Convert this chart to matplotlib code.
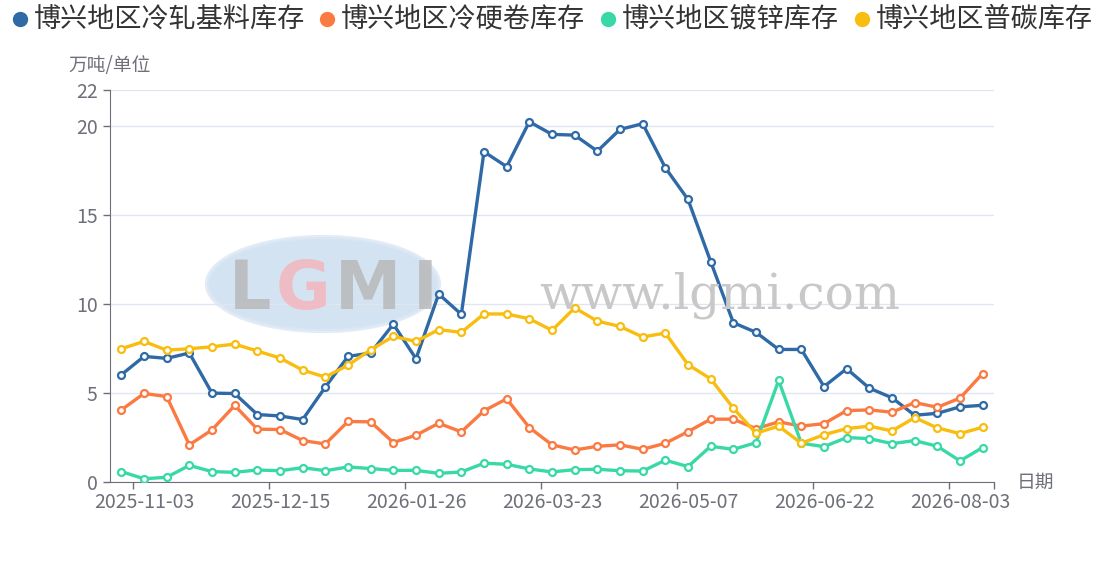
import matplotlib
matplotlib.use('Agg')
import matplotlib.pyplot as plt
from matplotlib.lines import Line2D
from matplotlib.patches import Ellipse

plt.rcParams['font.family'] = ['Noto Sans CJK SC', 'DejaVu Sans']

dates = ['2025-10-27', '2025-11-03', '2025-11-10', '2025-11-17', '2025-11-24', '2025-12-01',
         '2025-12-08', '2025-12-15', '2025-12-22', '2025-12-29', '2026-01-05', '2026-01-12',
         '2026-01-19', '2026-01-26', '2026-02-02', '2026-02-09', '2026-03-02', '2026-03-09',
         '2026-03-16', '2026-03-23', '2026-03-30', '2026-04-07', '2026-04-13', '2026-04-20',
         '2026-04-27', '2026-05-07', '2026-05-11', '2026-05-18', '2026-05-25', '2026-06-01',
         '2026-06-08', '2026-06-22', '2026-06-29', '2026-07-06', '2026-07-13', '2026-07-20',
         '2026-07-27', '2026-08-03', '2026-08-10']

cold_base = [6.03, 7.06, 6.95, 7.25, 5.00, 4.98, 3.80, 3.72, 3.52, 5.34, 7.06, 7.25, 8.87,
             6.93, 10.56, 9.42, 18.54, 17.70, 20.22, 19.51, 19.47, 18.57, 19.79, 20.11, 17.64,
             15.86, 12.38, 8.95, 8.41, 7.45, 7.45, 5.37, 6.37, 5.28, 4.74, 3.76, 3.87, 4.23, 4.32]
cold_hard = [4.06, 4.98, 4.81, 2.10, 2.94, 4.31, 2.98, 2.96, 2.34, 2.15, 3.41, 3.39, 2.23,
             2.64, 3.31, 2.83, 4.01, 4.68, 3.07, 2.10, 1.81, 2.02, 2.10, 1.85, 2.19, 2.84,
             3.54, 3.54, 3.01, 3.39, 3.15, 3.29, 4.02, 4.06, 3.93, 4.47, 4.21, 4.72, 6.10]
galvanized = [0.60, 0.20, 0.28, 0.95, 0.60, 0.56, 0.69, 0.65, 0.82, 0.65, 0.86, 0.77, 0.67,
              0.67, 0.50, 0.58, 1.07, 1.01, 0.75, 0.58, 0.71, 0.73, 0.65, 0.63, 1.24, 0.88,
              2.02, 1.85, 2.22, 5.71, 2.19, 2.00, 2.51, 2.45, 2.17, 2.34, 2.02, 1.20, 1.95]
carbon = [7.49, 7.90, 7.41, 7.49, 7.60, 7.75, 7.36, 6.97, 6.29, 5.90, 6.57, 7.43, 8.18,
          7.90, 8.56, 8.41, 9.44, 9.44, 9.17, 8.52, 9.78, 9.04, 8.74, 8.15, 8.37, 6.60,
          5.80, 4.16, 2.75, 3.15, 2.19, 2.67, 3.01, 3.15, 2.88, 3.63, 3.05, 2.73, 3.09]

names = ['博兴地区冷轧基料库存', '博兴地区冷硬卷库存', '博兴地区镀锌库存', '博兴地区普碳库存']
colors = ['#2f6aa6', '#fb7a42', '#38d9a6', '#f8bd0f']
series = [cold_base, cold_hard, galvanized, carbon]

axis_col = '#6e7079'

fig = plt.figure(figsize=(11.06, 5.88), dpi=100)
ax = fig.add_axes([110 / 1106, 1 - 482.3 / 588, 884 / 1106, 392.3 / 588])

# watermark
fig.add_artist(Ellipse((323 / 1106, 1 - 284 / 588), 232 / 1106, 94 / 588,
                       transform=fig.transFigure, facecolor='#c9dcef', edgecolor='#dbe7f4',
                       lw=3, alpha=0.8, zorder=0))
for ch, xx, col in [('L', 250, '#b9b9b9'), ('G', 303, '#f4b6bd'), ('M', 368, '#b9b9b9'), ('I', 425, '#b9b9b9')]:
    fig.text(xx / 1106, 1 - 290 / 588, ch, fontsize=48, fontweight='bold', color=col,
             ha='center', va='center', family='DejaVu Sans', alpha=0.85, zorder=0)
fig.text(720 / 1106, 1 - 295 / 588, 'www.lgmi.com', fontsize=35, color='#c8c8c8',
         family='DejaVu Serif', ha='center', va='center', zorder=0)

x = list(range(len(dates)))
for vals, col in zip(series, colors):
    ax.plot(x, vals, color=col, lw=2.4, marker='o', markersize=5, markerfacecolor='white',
            markeredgecolor=col, markeredgewidth=1.6, zorder=3, solid_joinstyle='round')

ax.set_xlim(-0.5, len(dates) - 0.5)
ax.set_ylim(0, 22)
ax.set_yticks([0, 5, 10, 15, 20, 22])
ax.yaxis.grid(True, color='#e0e6f1', lw=1)
ax.set_axisbelow(True)

label_idx = list(range(1, len(dates), 6))
ax.set_xticks([i - 0.5 for i in label_idx] + [len(dates) - 0.5])
ax.set_xticklabels([])
ax.set_xticks(label_idx, minor=True)
ax.set_xticklabels([dates[i] for i in label_idx], minor=True)
ax.tick_params(axis='x', which='major', length=5, color=axis_col, width=1)
ax.tick_params(axis='x', which='minor', length=0, pad=7, labelsize=14, labelcolor=axis_col)
ax.tick_params(axis='y', length=5, color=axis_col, width=1, labelsize=14, labelcolor=axis_col, pad=4)

for s in ['top', 'right']:
    ax.spines[s].set_visible(False)
for s in ['left', 'bottom']:
    ax.spines[s].set_color(axis_col)
ax.patch.set_alpha(0)

fig.text(68 / 1106, 1 - 66 / 588, '万吨/单位', fontsize=13.5, color=axis_col, va='center')
fig.text(1017 / 1106, 1 - 482 / 588, '日期', fontsize=13.5, color=axis_col, va='center')

# legend
for nm, col, lx in zip(names, colors, [20, 327, 608, 862]):
    fig.add_artist(Line2D([lx / 1106], [1 - 19 / 588], marker='o', markersize=10,
                          color=col, transform=fig.transFigure, lw=0))
    fig.text((lx + 14) / 1106, 1 - 19 / 588, nm, fontsize=19.5, color='#333333', va='center')

fig.savefig('out.png', dpi=100)
